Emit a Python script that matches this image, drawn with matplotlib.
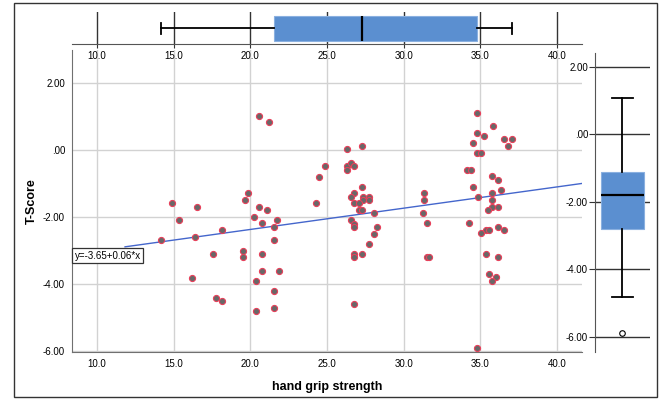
import matplotlib
matplotlib.use("Agg")
import matplotlib.pyplot as plt
from matplotlib.patches import Rectangle

plt.rcParams['font.family'] = ['Liberation Sans', 'DejaVu Sans']

# hand grip strength (x) and T-Score (y)
grip = [20.57, 21.24, 14.87, 16.54, 19.87, 19.65, 20.57, 21.07, 20.26, 20.74,
        21.76, 21.57, 15.37, 18.18, 16.37, 14.17, 21.57, 17.54, 19.55, 19.55,
        20.74, 16.17, 20.74, 21.85, 20.37, 21.57, 17.76, 18.18, 21.57, 20.37,
        26.29, 27.27, 24.87, 24.46, 26.29, 26.55, 26.76, 26.29, 24.26, 27.27,
        26.76, 26.55, 27.37, 27.37, 27.76, 27.76, 26.76, 27.07, 27.07, 27.27,
        28.07, 26.55, 26.76, 26.76, 28.26, 28.07, 27.76, 26.76, 26.76, 27.27,
        26.76,
        31.33, 31.33, 31.24, 31.54, 31.54, 31.67,
        34.77, 35.85, 34.77, 35.24, 34.55, 36.57, 37.05, 36.83, 34.77, 35.05,
        34.16, 34.37, 35.74, 36.14, 34.55, 36.34, 35.74, 34.87, 35.74, 35.74,
        36.14, 35.53, 34.24, 35.37, 35.57, 36.14, 36.57, 35.05, 35.37, 36.14,
        35.57, 36.03, 35.74, 34.77]
tscore = [1.01, 0.82, -1.60, -1.70, -1.30, -1.50, -1.70, -1.80, -2.00, -2.20,
          -2.10, -2.30, -2.10, -2.40, -2.60, -2.70, -2.70, -3.11, -3.01, -3.21,
          -3.11, -3.82, -3.61, -3.61, -3.92, -4.22, -4.42, -4.52, -4.72, -4.82,
          0.01, 0.11, -0.49, -0.81, -0.49, -0.39, -0.49, -0.59, -1.60, -1.10,
          -1.30, -1.40, -1.40, -1.50, -1.40, -1.50, -1.60, -1.60, -1.80, -1.80,
          -1.90, -2.10, -2.22, -2.32, -2.32, -2.52, -2.81, -3.11, -3.21, -3.11,
          -4.61,
          -1.30, -1.50, -1.90, -2.20, -3.21, -3.21,
          1.10, 0.71, 0.51, 0.41, 0.21, 0.31, 0.31, 0.11, -0.09, -0.09,
          -0.59, -0.59, -0.79, -0.90, -1.10, -1.20, -1.30, -1.40, -1.50, -1.70,
          -1.70, -1.80, -2.20, -2.40, -2.40, -2.30, -2.40, -2.50, -3.11, -3.21,
          -3.71, -3.81, -3.91, -5.93]

# fit line as printed on the chart
fit_intercept = -3.65
fit_slope = 0.0635
fit_label = "y=-3.65+0.06*x"
fit_start = 11.83

# box plot summaries
grip_box = dict(med=27.27, q1=21.57, q3=34.77, whislo=14.15, whishi=37.05, fliers=[])
score_box = dict(med=-1.80, q1=-2.81, q3=-1.12, whislo=-4.81, whishi=1.085, fliers=[-5.90])

xticks = [10, 15, 20, 25, 30, 35, 40]
xticklabels = ["10.0", "15.0", "20.0", "25.0", "30.0", "35.0", "40.0"]
yticks = [2, 0, -2, -4, -6]
yticklabels = ["2.00", ".00", "-2.00", "-4.00", "-6.00"]

xlim = (8.37, 41.64)
ylim = (-6.04, 2.98)

fig = plt.figure(figsize=(6.6, 3.99), dpi=100)
fig.patches.append(Rectangle((14 / 660, 2 / 399), 643 / 660, 394 / 399,
                             transform=fig.transFigure, fill=False,
                             edgecolor='#333333', linewidth=1))

box_color = '#5b8fd0'

# main scatter
ax = fig.add_axes([0.1091, 0.1178, 0.7727, 0.7569])
ax.set_xlim(*xlim)
ax.set_ylim(*ylim)
ax.set_xticks(xticks)
ax.set_xticklabels(xticklabels)
ax.set_yticks(yticks)
ax.set_yticklabels(yticklabels)
ax.grid(True, color='#d2d2d2', linewidth=1)
ax.set_axisbelow(True)
ax.tick_params(length=0, labelsize=7, pad=5)
for s in ['top', 'right']:
    ax.spines[s].set_visible(False)
for s in ['left', 'bottom']:
    ax.spines[s].set_color('#707070')
ax.plot(grip, tscore, 'o', ms=4.4, mfc='#686868', mec='#e8405a', mew=0.8, zorder=3)
fx = [fit_start, xlim[1]]
ax.plot(fx, [fit_intercept + fit_slope * v for v in fx], color='#4466cc', lw=1, zorder=2)
ax.text(8.55, -3.17, fit_label, fontsize=7, va='center', ha='left', zorder=4,
        bbox=dict(boxstyle='square,pad=0.25', fc='white', ec='#333333', lw=0.9))
ax.set_xlabel("hand grip strength", fontsize=9, fontweight='bold', labelpad=9)
ax.set_ylabel("T-Score", fontsize=9, fontweight='bold', labelpad=4)

bx_kw = dict(patch_artist=True, widths=0.79,
             boxprops=dict(facecolor=box_color, edgecolor='#8ab0e0', lw=0.8),
             medianprops=dict(color='black', lw=1.6),
             whiskerprops=dict(color='black', lw=1.3),
             capprops=dict(color='black', lw=1.3),
             flierprops=dict(marker='o', mfc='white', mec='black', ms=4, mew=0.8))

# top box plot
axt = fig.add_axes([0.1091, 0.8897, 0.7727, 0.0802])
axt.bxp([grip_box], positions=[0.49], vert=False, capwidths=[0.34], **bx_kw)
axt.set_xlim(*xlim)
axt.set_ylim(0, 1)
axt.set_xticks(xticks)
axt.set_xticklabels(xticklabels)
axt.set_yticks([])
axt.grid(True, axis='x', color='#333333', lw=1)
axt.set_axisbelow(True)
axt.tick_params(axis='x', length=3, color='#333333', labelsize=7, pad=2)
for s in ['top', 'right', 'left']:
    axt.spines[s].set_visible(False)
axt.spines['bottom'].set_color('#555555')

# right box plot
axr = fig.add_axes([0.9015, 0.1185, 0.0833, 0.7487])
axr.bxp([score_box], positions=[0.5], capwidths=[0.38], **bx_kw)
axr.set_xlim(0, 1)
axr.set_ylim(-6.44, 2.41)
axr.set_yticks(yticks)
axr.set_yticklabels(yticklabels)
axr.set_xticks([])
axr.grid(True, axis='y', color='#333333', lw=1)
axr.set_axisbelow(True)
axr.tick_params(axis='y', length=4, color='#333333', labelsize=7, pad=1)
for s in ['top', 'right', 'bottom']:
    axr.spines[s].set_visible(False)
axr.spines['left'].set_color('#555555')

fig.savefig("out.png", dpi=100)
